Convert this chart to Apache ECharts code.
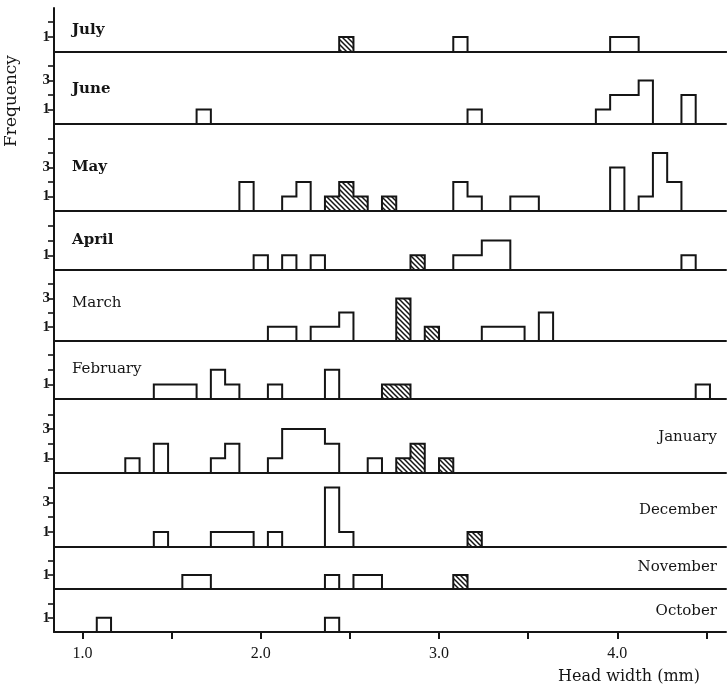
<!DOCTYPE html>
<html><head><meta charset="utf-8">
<script src="https://cdn.jsdelivr.net/npm/echarts@6/dist/echarts.min.js"></script>
<style>html,body{margin:0;padding:0;background:#fff}#c{width:728px;height:687px}</style>
</head><body><div id="c"></div>
<script>
// ---------------- DATA ----------------
const months = ['July','June','May','April','March','February','January','December','November','October'];
const binWidth = 0.08; // mm, each bin given by its left edge
// [left edge of bin (mm), frequency]
const julyOpen = [[3.08,1],[3.96,1],[4.04,1]];
const julyHatched = [[2.44,1]];
const juneOpen = [[1.64,1],[3.16,1],[3.88,1],[3.96,2],[4.04,2],[4.12,3],[4.36,2]];
const juneHatched = [];
const mayOpen = [[1.88,2],[2.12,1],[2.20,2],[3.08,2],[3.16,1],[3.40,1],[3.48,1],[3.96,3],[4.12,1],[4.20,4],[4.28,2]];
const mayHatched = [[2.36,1],[2.44,2],[2.52,1],[2.68,1]];
const aprilOpen = [[1.96,1],[2.12,1],[2.28,1],[3.08,1],[3.16,1],[3.24,2],[3.32,2],[4.36,1]];
const aprilHatched = [[2.84,1]];
const marchOpen = [[2.04,1],[2.12,1],[2.28,1],[2.36,1],[2.44,2],[3.24,1],[3.32,1],[3.40,1],[3.56,2]];
const marchHatched = [[2.76,3],[2.92,1]];
const februaryOpen = [[1.40,1],[1.48,1],[1.56,1],[1.72,2],[1.80,1],[2.04,1],[2.36,2],[4.44,1]];
const februaryHatched = [[2.68,1],[2.76,1]];
const januaryOpen = [[1.24,1],[1.40,2],[1.72,1],[1.80,2],[2.04,1],[2.12,3],[2.20,3],[2.28,3],[2.36,2],[2.60,1]];
const januaryHatched = [[2.76,1],[2.84,2],[3.00,1]];
const decemberOpen = [[1.40,1],[1.72,1],[1.80,1],[1.88,1],[2.04,1],[2.36,4],[2.44,1]];
const decemberHatched = [[3.16,1]];
const novemberOpen = [[1.56,1],[1.64,1],[2.36,1],[2.52,1],[2.60,1]];
const novemberHatched = [[3.08,1]];
const octoberOpen = [[1.08,1],[2.36,1]];
const octoberHatched = [];
// y-axis tick labels per panel
const yLabels = [[1],[1,3],[1,3],[1],[1,3],[1],[1,3],[1,3],[1],[1]];
// x-axis ticks and labels
const xTicks = [1.0,1.5,2.0,2.5,3.0,3.5,4.0,4.5];
const xLabels = [1.0,2.0,3.0,4.0];
// arrow annotation in February panel: [from], [to] (mm, frequency)
const arrowFrom = [4.615, 3.55];
const arrowTo = [4.537, 1.25];

const openSets = [julyOpen,juneOpen,mayOpen,aprilOpen,marchOpen,februaryOpen,januaryOpen,decemberOpen,novemberOpen,octoberOpen];
const hatchedSets = [julyHatched,juneHatched,mayHatched,aprilHatched,marchHatched,februaryHatched,januaryHatched,decemberHatched,novemberHatched,octoberHatched];

// ---------------- LAYOUT ----------------
const panelTop = [8,52,124,211,270,341,399,473,547,589];
const panelH   = [44,72,87,59,71,58,74,74,42,43];
const panelMax = [2.93,4.97,6.0,4.0,5.0,3.97,5.05,4.97,2.98,3.04];
const labelY   = [30,89,167,240,303,369,437,510,567,611];
const labelRight = [false,false,false,false,false,false,true,true,true,true];
const labelBold  = [true,true,true,true,false,false,false,false,false,false];
const X_MIN = 0.84, X_MAX = 4.61;
const INK = '#151515';

// hatch pattern
const pat = document.createElement('canvas');
const S = 5; pat.width = S; pat.height = S;
const pc = pat.getContext('2d');
pc.fillStyle = '#fff'; pc.fillRect(0,0,S,S);
pc.strokeStyle = INK; pc.lineWidth = 1.5; pc.lineCap = 'square';
pc.beginPath();
pc.moveTo(-1,-1); pc.lineTo(S+1,S+1);
pc.moveTo(-1,S-1); pc.lineTo(1,S+1);
pc.moveTo(S-1,-1); pc.lineTo(S+1,1);
pc.stroke();
const hatchFill = {image: pat, repeat: 'repeat'};

function toRuns(bins){
  const s = bins.slice().sort((a,b)=>a[0]-b[0]);
  const runs = [];
  s.forEach(b=>{
    const last = runs[runs.length-1];
    if (last && Math.abs(last[last.length-1][0] + binWidth - b[0]) < 1e-6) last.push(b);
    else runs.push([b]);
  });
  return runs;
}

function histSeries(i, bins, hatched){
  const runs = toRuns(bins);
  return {
    type:'custom', xAxisIndex:i, yAxisIndex:i, silent:true, clip:false,
    data: runs.map(r=>[r[0][0], Math.max(...r.map(b=>b[1]))]),
    renderItem: function(params, api){
      const run = runs[params.dataIndex];
      const pts = [api.coord([run[0][0], 0])];
      run.forEach(b=>{ pts.push(api.coord([b[0], b[1]])); pts.push(api.coord([b[0]+binWidth, b[1]])); });
      pts.push(api.coord([run[run.length-1][0]+binWidth, 0]));
      return {type:'polygon', shape:{points:pts},
        style:{fill: hatched ? hatchFill : 'none', stroke: INK, lineWidth: 2, lineJoin:'miter'}};
    }
  };
}

const grids = [], xAxes = [], yAxes = [], series = [], graphics = [];
months.forEach((m,i)=>{
  grids.push({left:54, right:2, top:panelTop[i], height:panelH[i]});
  const last = i === months.length-1;
  xAxes.push({
    type:'value', gridIndex:i, min:X_MIN, max:X_MAX, position:'bottom',
    axisLine:{show:true, onZero:false, lineStyle:{color:INK, width:2}},
    axisTick: last ? {show:true, customValues:xTicks, length:7, lineStyle:{color:INK, width:2}} : {show:false},
    axisLabel: last ? {show:true, customValues:xLabels, formatter:v=>Number(v).toFixed(1), margin:14,
      fontFamily:'Liberation Serif', fontSize:16, color:INK} : {show:false},
    splitLine:{show:false}
  });
  const ticks = [];
  for (let t=1; t<=Math.round(panelMax[i])-1; t++) ticks.push(t);
  yAxes.push({
    type:'value', gridIndex:i, min:0, max:panelMax[i],
    axisLine:{show:true, lineStyle:{color:INK, width:2}},
    axisTick:{show:true, customValues:ticks, length:6, lineStyle:{color:INK, width:1.6}},
    axisLabel:{show:true, customValues:yLabels[i], margin:4, fontFamily:'Liberation Serif', fontWeight:'bold', fontSize:15, color:INK},
    splitLine:{show:false}
  });
  series.push(histSeries(i, openSets[i], false));
  series.push(histSeries(i, hatchedSets[i], true));
  graphics.push({type:'text', x: labelRight[i] ? 717 : 72, y: labelY[i], silent:true,
    style:{text:m, fill:INK, font:(labelBold[i]?'bold ':'')+'15px "DejaVu Serif"',
      textAlign: labelRight[i] ? 'right' : 'left', textVerticalAlign:'middle'}});
});
// top frame line of the first panel
xAxes.push({type:'value', gridIndex:0, min:X_MIN, max:X_MAX, position:'top',
  axisLine:{show:true, lineStyle:{color:INK, width:2}}, axisTick:{show:false}, axisLabel:{show:false}, splitLine:{show:false}});

// arrow in February panel
series.push({type:'line', xAxisIndex:5, yAxisIndex:5, data:[], silent:true,
  markLine:{silent:true, symbol:['none','arrow'], symbolSize:10, animation:false,
    lineStyle:{color:INK, width:2, type:'solid'}, label:{show:false},
    data:[[{coord:arrowFrom},{coord:arrowTo}]]}});

graphics.push({type:'text', x:12, y:101, rotation:Math.PI/2, silent:true,
  style:{text:'Frequency', fill:INK, font:'17px "DejaVu Serif"', textAlign:'center', textVerticalAlign:'middle'}});
graphics.push({type:'text', x:700, y:677, silent:true,
  style:{text:'Head width (mm)', fill:INK, font:'16px "DejaVu Serif"', textAlign:'right', textVerticalAlign:'middle'}});

const chart = echarts.init(document.getElementById('c'), null, {renderer:'canvas'});
chart.setOption({
  animation:false, backgroundColor:'#fff',
  grid:grids, xAxis:xAxes, yAxis:yAxes, series:series, graphic:graphics
});
</script></body></html>
